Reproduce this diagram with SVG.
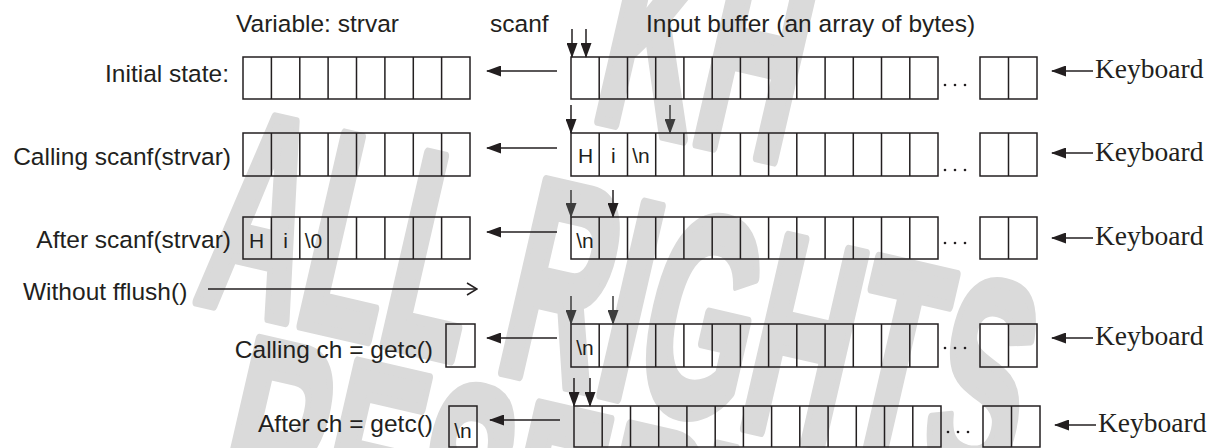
<svg xmlns="http://www.w3.org/2000/svg" width="1215" height="448" viewBox="0 0 1215 448">
  <style>
    .lbl { font-family: "Liberation Sans", Arial, sans-serif; font-size: 24.5px; fill: #231f20; }
    .end { text-anchor: end; }
    .ch { font-family: "Liberation Sans", Arial, sans-serif; font-size: 21px; fill: #231f20; text-anchor: middle; }
    .kb { font-family: "Liberation Serif", "Times New Roman", serif; font-size: 27.5px; fill: #231f20; }
    .box { fill: none; stroke: #231f20; stroke-width: 1.5; }
    .arr { fill: none; stroke: #231f20; stroke-width: 1.5; }
    .arr.grey { stroke: #3d3d3d; }
    .dots { fill: #231f20; }
    .wm { font-family: "Liberation Sans", Arial, sans-serif; font-weight: bold; font-size: 285px; fill: #dadada; stroke: #dadada; stroke-width: 11; stroke-linejoin: round; }
  </style>
  <defs>
    <marker id="head" markerUnits="userSpaceOnUse" markerWidth="15" markerHeight="11" refX="14" refY="5.5" orient="auto">
      <path d="M0,0 L15,5.5 L0,11 Z" fill="#231f20"/>
    </marker>
    <marker id="headGrey" markerUnits="userSpaceOnUse" markerWidth="15" markerHeight="11" refX="14" refY="5.5" orient="auto">
      <path d="M0,0 L15,5.5 L0,11 Z" fill="#3d3d3d"/>
    </marker>
    <marker id="open" markerUnits="userSpaceOnUse" markerWidth="12" markerHeight="14" refX="11" refY="7" orient="auto">
      <path d="M1,1 L11,7 L1,13" fill="none" stroke="#231f20" stroke-width="1.5"/>
    </marker>
    <g id="dots3">
      <circle cx="0" cy="0" r="1.3"/>
      <circle cx="10" cy="0" r="1.3"/>
      <circle cx="20" cy="0" r="1.3"/>
    </g>
  </defs>

  <!-- background watermark -->
  <g id="watermark">
    <text class="wm" transform="translate(588,118) rotate(13) scale(0.49,1)">KH</text>
    <text class="wm" transform="translate(192,300) rotate(13) scale(0.49,1)">ALL RIGHTS</text>
    <text class="wm" transform="translate(205,528) rotate(13) scale(0.49,1)">RESERVED</text>
  </g>

  <!-- column headings -->
  <g id="headings">
    <text class="lbl" x="236" y="32">Variable: strvar</text>
    <text class="lbl" x="490" y="32">scanf</text>
    <text class="lbl" x="646" y="32">Input buffer (an array of bytes)</text>
  </g>

  <!-- row 1: initial state -->
  <g id="row-initial">
    <text class="lbl end" x="229" y="82">Initial state:</text>
    <g id="strvar-1">
      <rect class="box" x="243" y="57" width="227" height="42"/>
      <path class="box" d="M271.4,57V99M299.8,57V99M328.1,57V99M356.5,57V99M384.9,57V99M413.3,57V99M441.6,57V99"/>
    </g>
    <g id="buffer-1">
      <rect class="box" x="571" y="57" width="367" height="42"/>
      <path class="box" d="M599.2,57V99M627.5,57V99M655.7,57V99M683.9,57V99M712.2,57V99M740.4,57V99M768.6,57V99M796.8,57V99M825.1,57V99M853.3,57V99M881.5,57V99M909.8,57V99"/>
      <use href="#dots3" class="dots" x="945" y="85"/>
      <rect class="box" x="980" y="57" width="57" height="42"/>
      <path class="box" d="M1008.5,57V99"/>
    </g>
    <text class="kb" x="1095" y="78">Keyboard</text>
  </g>

  <!-- row 2: calling scanf -->
  <g id="row-calling-scanf">
    <text class="lbl end" x="231" y="165">Calling scanf(strvar)</text>
    <g id="strvar-2">
      <rect class="box" x="243" y="133" width="227" height="43"/>
      <path class="box" d="M271.4,133V176M299.8,133V176M328.1,133V176M356.5,133V176M384.9,133V176M413.3,133V176M441.6,133V176"/>
    </g>
    <g id="buffer-2">
      <rect class="box" x="571" y="133" width="367" height="43"/>
      <path class="box" d="M599.2,133V176M627.5,133V176M655.7,133V176M683.9,133V176M712.2,133V176M740.4,133V176M768.6,133V176M796.8,133V176M825.1,133V176M853.3,133V176M881.5,133V176M909.8,133V176"/>
      <text class="ch" x="585.6" y="163">H</text>
      <text class="ch" x="613.3" y="163">i</text>
      <text class="ch" x="641" y="163">\n</text>
      <use href="#dots3" class="dots" x="945" y="170"/>
      <rect class="box" x="980" y="133" width="57" height="43"/>
      <path class="box" d="M1008.5,133V176"/>
    </g>
    <text class="kb" x="1095" y="161">Keyboard</text>
  </g>

  <!-- row 3: after scanf -->
  <g id="row-after-scanf">
    <text class="lbl end" x="231" y="248">After scanf(strvar)</text>
    <g id="strvar-3">
      <rect class="box" x="243" y="217" width="227" height="42"/>
      <path class="box" d="M271.4,217V259M299.8,217V259M328.1,217V259M356.5,217V259M384.9,217V259M413.3,217V259M441.6,217V259"/>
      <text class="ch" x="256.5" y="248">H</text>
      <text class="ch" x="285.6" y="248">i</text>
      <text class="ch" x="313.5" y="248">\0</text>
    </g>
    <g id="buffer-3">
      <rect class="box" x="571" y="217" width="367" height="42"/>
      <path class="box" d="M599.2,217V259M627.5,217V259M655.7,217V259M683.9,217V259M712.2,217V259M740.4,217V259M768.6,217V259M796.8,217V259M825.1,217V259M853.3,217V259M881.5,217V259M909.8,217V259"/>
      <text class="ch" x="585" y="248">\n</text>
      <use href="#dots3" class="dots" x="945" y="243"/>
      <rect class="box" x="980" y="217" width="57" height="42"/>
      <path class="box" d="M1008.5,217V259"/>
    </g>
    <text class="kb" x="1095" y="245">Keyboard</text>
  </g>

  <g id="note-fflush">
    <text class="lbl" x="23" y="300">Without fflush()</text>
  </g>

  <!-- row 4: calling getc -->
  <g id="row-calling-getc">
    <text class="lbl end" x="433" y="358">Calling ch = getc()</text>
    <rect id="ch-4" class="box" x="446" y="324" width="29" height="43"/>
    <g id="buffer-4">
      <rect class="box" x="571" y="324" width="367" height="43"/>
      <path class="box" d="M599.2,324V367M627.5,324V367M655.7,324V367M683.9,324V367M712.2,324V367M740.4,324V367M768.6,324V367M796.8,324V367M825.1,324V367M853.3,324V367M881.5,324V367M909.8,324V367"/>
      <text class="ch" x="585" y="355">\n</text>
      <use href="#dots3" class="dots" x="945" y="348"/>
      <rect class="box" x="980" y="324" width="57" height="43"/>
      <path class="box" d="M1008.5,324V367"/>
    </g>
    <text class="kb" x="1095" y="345">Keyboard</text>
  </g>

  <!-- row 5: after getc -->
  <g id="row-after-getc">
    <text class="lbl end" x="433" y="432">After ch = getc()</text>
    <g id="ch-5">
      <rect class="box" x="449" y="406" width="28" height="41"/>
      <text class="ch" x="463" y="438">\n</text>
    </g>
    <g id="buffer-5">
      <rect class="box" x="574" y="406" width="367" height="41"/>
      <path class="box" d="M602.2,406V447M630.5,406V447M658.7,406V447M686.9,406V447M715.2,406V447M743.4,406V447M771.6,406V447M799.8,406V447M828.1,406V447M856.3,406V447M884.5,406V447M912.8,406V447"/>
      <use href="#dots3" class="dots" x="948" y="432"/>
      <rect class="box" x="983" y="406" width="57" height="41"/>
      <path class="box" d="M1011.5,406V447"/>
    </g>
    <text class="kb" x="1098" y="432">Keyboard</text>
  </g>

  <!-- connectors -->
  <g id="connectors">
    <!-- scanf / getc: buffer to variable -->
    <path class="arr" marker-end="url(#head)" d="M557,71H487"/>
    <path class="arr" marker-end="url(#head)" d="M557,148H487"/>
    <path class="arr" marker-end="url(#head)" d="M557,232H487"/>
    <path class="arr" marker-end="url(#head)" d="M557,338H487"/>
    <path class="arr" marker-end="url(#head)" d="M560,420H490"/>
    <!-- keyboard into buffer -->
    <path class="arr" marker-end="url(#head)" d="M1093,71H1052"/>
    <path class="arr" marker-end="url(#head)" d="M1093,153H1052"/>
    <path class="arr" marker-end="url(#head)" d="M1093,238H1052"/>
    <path class="arr" marker-end="url(#head)" d="M1093,338H1052"/>
    <path class="arr" marker-end="url(#head)" d="M1096,425H1055"/>
    <!-- buffer position pointers -->
    <path class="arr" marker-end="url(#head)" d="M572,29V57"/>
    <path class="arr" marker-end="url(#head)" d="M586,29V57"/>
    <path class="arr" marker-end="url(#head)" d="M571,105V133"/>
    <path class="arr grey" marker-end="url(#headGrey)" d="M670,105V133"/>
    <path class="arr grey" marker-end="url(#headGrey)" d="M571,190V217"/>
    <path class="arr" marker-end="url(#head)" d="M613,190V217"/>
    <path class="arr grey" marker-end="url(#headGrey)" d="M571,296V324"/>
    <path class="arr grey" marker-end="url(#headGrey)" d="M613,296V324"/>
    <path class="arr" marker-end="url(#head)" d="M574,378V406"/>
    <path class="arr" marker-end="url(#head)" d="M590,378V406"/>
    <!-- without fflush -->
    <path class="arr" marker-end="url(#open)" d="M208,289H477"/>
  </g>
</svg>
